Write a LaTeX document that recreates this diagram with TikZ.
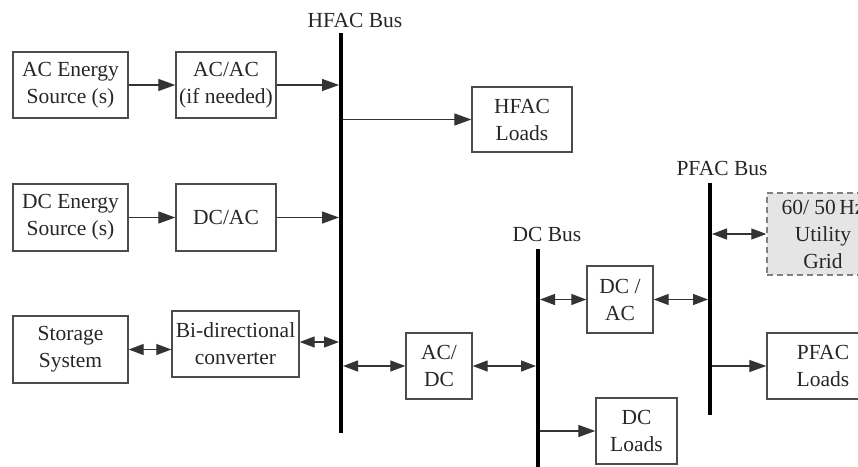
\documentclass[tikz,border=0pt]{standalone}
\usepackage{fontspec}
\setmainfont{Liberation Serif}
\usetikzlibrary{arrows.meta}
\tikzset{
  blk/.style={draw=black!70, line width=1.4pt, align=center, inner sep=0pt,
    font=\fontsize{21.5}{27}\selectfont, text=black!85},
  bus/.style={line width=4pt, black},
  lbl/.style={font=\fontsize{21.5}{27}\selectfont, text=black!85, inner sep=0pt},
  conn/.style={line width=1.3pt, black!80, -{Triangle[length=17pt,width=12pt]}},
  bconn/.style={line width=1.3pt, black!80, {Triangle[length=15pt,width=11pt]}-{Triangle[length=15pt,width=11pt]}},
}
\begin{document}
\begin{tikzpicture}[x=1pt,y=-1pt]
\useasboundingbox (0,0) rectangle (858,466);
% boxes
\node[blk, minimum width=115pt, minimum height=66pt] (acsrc) at (70.5,85) {AC Energy\\Source (s)};
\node[blk, minimum width=100pt, minimum height=66pt] (acac) at (226,85) {AC/AC\\(if needed)};
\node[blk, minimum width=100pt, minimum height=65pt] (hfacl) at (522,119.5) {HFAC\\Loads};
\node[blk, minimum width=115pt, minimum height=67pt] (dcsrc) at (70.5,217.5) {DC Energy\\Source (s)};
\node[blk, minimum width=100pt, minimum height=67pt] (dcac) at (226,217.5) {DC/AC};
\node[blk, minimum width=115pt, minimum height=67pt] (stor) at (70.5,349.5) {Storage\\System};
\node[blk, minimum width=127pt, minimum height=66pt] (bidir) at (235.5,344) {Bi-directional\\converter};
\node[blk, minimum width=66pt, minimum height=66pt] (acdc) at (439,366) {AC/\\DC};
\node[blk, minimum width=66pt, minimum height=67pt] (dcac2) at (620,299.5) {DC /\\AC};
\node[blk, minimum width=81pt, minimum height=66pt] (dcl) at (636.5,431) {DC\\Loads};
\node[blk, draw=black!50, dash pattern=on 6pt off 4pt, fill=black!10, minimum width=112pt, minimum height=82pt] (grid) at (823,234) {60/ 50\,Hz\\Utility\\Grid};
\node[blk, minimum width=112pt, minimum height=66pt] (pfacl) at (823,366) {PFAC\\Loads};
% buses
\coordinate (hfT) at (341,33);
\coordinate (hfB) at (341,433);
\coordinate (dcT) at (538,249);
\coordinate (dcB) at (538,470);
\coordinate (pfT) at (710,183);
\coordinate (pfB) at (710,415);
\draw[bus] (hfT) -- (hfB);
\draw[bus] (dcT) -- (dcB);
\draw[bus] (pfT) -- (pfB);
\node[lbl] (hflbl) at (355,20) {HFAC Bus};
\node[lbl] (dclbl) at (547,234) {DC Bus};
\node[lbl] (pflbl) at (722,168) {PFAC Bus};
% connectors
\draw[conn] (acsrc.east) -- (acac.west);
\draw[conn] (acac.east) -- ([xshift=-2pt]acac.east -| hfT);
\draw[conn] ([xshift=2pt]hfacl.west -| hfT) -- (hfacl.west);
\draw[conn] (dcsrc.east) -- (dcac.west);
\draw[conn] (dcac.east) -- ([xshift=-2pt]dcac.east -| hfT);
\draw[bconn] (stor.east) -- (stor.east -| bidir.west);
\draw[bconn] ([yshift=2pt]bidir.east) -- ([xshift=-2pt,yshift=2pt]bidir.east -| hfT);
\draw[bconn] ([xshift=2pt]acdc.west -| hfT) -- (acdc.west);
\draw[bconn] (acdc.east) -- ([xshift=-2pt]acdc.east -| dcT);
\draw[bconn] ([xshift=2pt]dcac2.west -| dcT) -- (dcac2.west);
\draw[bconn] (dcac2.east) -- ([xshift=-2pt]dcac2.east -| pfT);
\draw[bconn] ([xshift=2pt]grid.west -| pfT) -- (grid.west);
\draw[conn] ([xshift=2pt]pfacl.west -| pfT) -- (pfacl.west);
\draw[conn] ([xshift=2pt]dcl.west -| dcT) -- (dcl.west);
\end{tikzpicture}
\end{document}
